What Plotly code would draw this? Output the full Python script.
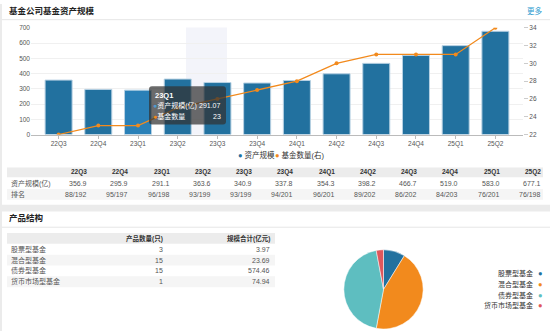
import plotly.graph_objects as go

# ---- data ----
quarters = ["22Q3", "22Q4", "23Q1", "23Q2", "23Q3", "23Q4",
            "24Q1", "24Q2", "24Q3", "24Q4", "25Q1", "25Q2"]
asset_scale = [356.9, 295.9, 291.1, 363.6, 340.9, 337.8,
               354.3, 398.2, 466.7, 519.0, 583.0, 677.1]
fund_count = [22, 23, 23, 25, 26, 27, 28, 30, 31, 31, 31, 34]
rank_labels = ["88/192", "95/197", "96/198", "93/199", "93/199", "94/201",
               "96/201", "89/202", "86/202", "84/203", "76/201", "76/198"]

product_types = ["股票型基金", "混合型基金", "债券型基金", "货币市场型基金"]
product_counts = [3, 15, 15, 1]
product_scales = [3.97, 23.69, 574.46, 74.94]

tooltip_quarter = "23Q1"
tooltip_scale = 291.07
tooltip_count = 23

W, H = 550, 334
BLUE = "#22719f"
ORANGE = "#f28a1d"
PIE_COLORS = ["#22719f", "#f28a1d", "#5ebec0", "#e0575c"]
FONT = "Liberation Sans, Arial, Noto Sans CJK SC, sans-serif"


def px(x):
    return x / W


def py(y):
    return 1 - y / H


shapes = []
annotations = []


def rect(x0, y0, x1, y1, color, layer="below"):
    shapes.append(dict(type="rect", xref="paper", yref="paper",
                       x0=px(x0), x1=px(x1), y0=py(y1), y1=py(y0),
                       fillcolor=color, line=dict(width=0), layer=layer))


def hline(x0, x1, y, color, width=1):
    shapes.append(dict(type="line", xref="paper", yref="paper",
                       x0=px(x0), x1=px(x1), y0=py(y), y1=py(y),
                       line=dict(color=color, width=width), layer="below"))


def text(x, y, s, size=7, color="#444", anchor="left", bold=False):
    if bold:
        s = "<b>" + s + "</b>"
    annotations.append(dict(xref="paper", yref="paper", x=px(x), y=py(y),
                            text=s, showarrow=False, xanchor=anchor,
                            yanchor="middle", align=anchor,
                            font=dict(size=size, color=color, family=FONT)))


fig = go.Figure()

bar_colors = [BLUE] * len(quarters)
bar_colors[quarters.index(tooltip_quarter)] = "#2a80b7"

fig.add_trace(go.Bar(
    x=quarters, y=asset_scale, name="资产规模",
    marker=dict(color=bar_colors, line=dict(color="#b7d1e3", width=1)),
    width=0.68, yaxis="y", showlegend=False))

fig.add_trace(go.Scatter(
    x=quarters, y=fund_count, name="基金数量(右)", mode="lines+markers",
    line=dict(color=ORANGE, width=1.3),
    marker=dict(size=4, color=ORANGE), yaxis="y2", showlegend=False))

# pie of product counts
fig.add_trace(go.Pie(
    labels=product_types, values=product_counts, sort=False,
    direction="clockwise", rotation=0, textinfo="none",
    marker=dict(colors=PIE_COLORS, line=dict(color="white", width=0.5)),
    domain=dict(x=[px(343), px(424)], y=[py(332), py(251)]),
    showlegend=False, hoverinfo="skip"))

# page background pieces
rect(0, 0, 2, H, "#ebebeb")
rect(0, 205, W, 212, "#ebebeb")

# header
text(7, 7.5, "基金公司基金资产规模", size=8.5, color="#222", bold=True)
text(545, 7.5, "更多", size=7.5, color="#2b9bd0", anchor="right")
hline(2, W, 16, "#e6e6e6")

# hover band
rect(186, 24, 227, 133.5, "#f3f4fa")

# chart legend
text(236, 154, "<span style='color:%s'>●</span> 资产规模" % BLUE, size=7.5, color="#333")
text(273, 154, "<span style='color:%s'>●</span> 基金数量(右)" % ORANGE, size=7.5, color="#333")

# tooltip box
tx0, ty0, tx1, ty1, r = 149, 84, 226, 123, 3
path = ("M {a},{b} L {c},{b} Q {d},{b} {d},{e} L {d},{f} Q {d},{g} {c},{g} "
        "L {a},{g} Q {h},{g} {h},{f} L {h},{e} Q {h},{b} {a},{b} Z").format(
    a=px(tx0 + r), b=py(ty0), c=px(tx1 - r), d=px(tx1), e=py(ty0 + r),
    f=py(ty1 - r), g=py(ty1), h=px(tx0))
shapes.append(dict(type="path", xref="paper", yref="paper", path=path,
                   fillcolor="rgba(50,50,50,0.72)", line=dict(width=0),
                   layer="above"))
text(153, 93, tooltip_quarter, size=7.5, color="white", bold=True)
text(151, 104, "<span style='color:#4d9ad0'>●</span>资产规模(亿)", size=7, color="white")
text(223, 104, "%.2f" % tooltip_scale, size=7, color="white", anchor="right")
text(151, 114.5, "<span style='color:%s'>●</span>基金数量" % ORANGE, size=7, color="white")
text(223, 114.5, str(tooltip_count), size=7, color="white", anchor="right")

# quarterly table
rect(7, 167, 543, 177, "#ececec")
rect(7, 189, 543, 200, "#f5f5f5")
text(9, 183, "资产规模(亿)", size=7, color="#555")
text(9, 194.5, "排名", size=7, color="#555")
n = len(quarters)
for i, q in enumerate(quarters):
    xr = 89 + i * (543 - 89) / (n - 1)
    text(xr, 172, q, size=6.5, color="#333", anchor="right", bold=True)
    text(xr, 183, "%.1f" % asset_scale[i], size=7, color="#555", anchor="right")
    text(xr, 194.5, rank_labels[i], size=7, color="#555", anchor="right")

# product structure
text(7, 219, "产品结构", size=8.5, color="#222", bold=True)
hline(2, W, 228, "#e6e6e6")
rect(7, 234, 275, 245, "#ececec")
text(165, 239.5, "产品数量(只)", size=6.5, color="#333", anchor="right", bold=True)
text(272, 239.5, "规模合计(亿元)", size=6.5, color="#333", anchor="right", bold=True)
for i, name in enumerate(product_types):
    yc = 250.7 + i * 11
    if i % 2 == 1:
        rect(7, yc - 5.5, 275, yc + 5.5, "#f5f5f5")
    text(9, yc, name, size=7, color="#555")
    text(165, yc, str(product_counts[i]), size=7, color="#555", anchor="right")
    text(272, yc, "%.2f" % product_scales[i], size=7, color="#555", anchor="right")

# pie legend
for i, name in enumerate(product_types):
    yc = 275.7 + i * 10.9
    text(535, yc, name, size=7, color="#333", anchor="right")
    text(536, yc, "<span style='color:%s'>●</span>" % PIE_COLORS[i], size=7.5)

fig.update_layout(
    width=W, height=H,
    margin=dict(l=0, r=0, t=0, b=0),
    paper_bgcolor="white", plot_bgcolor="rgba(0,0,0,0)",
    font=dict(family=FONT, size=7, color="#666"),
    bargap=0.32,
    xaxis=dict(domain=[px(31), px(523)], type="category",
               showline=True, linecolor="#bbbbbb", linewidth=1,
               ticks="outside", ticklen=3, tickcolor="#bbbbbb",
               tickfont=dict(size=6.5, color="#555"), showgrid=False,
               fixedrange=True),
    yaxis=dict(domain=[py(133.3), py(24.3)], range=[0, 700], dtick=100,
               showgrid=True, gridcolor="#f0f0f0", zeroline=False,
               tickfont=dict(size=6.5, color="#555"), ticks="",
               showline=False),
    yaxis2=dict(overlaying="y", side="right", range=[22, 34], dtick=2,
                showgrid=False, zeroline=False, ticks="outside", ticklen=4,
                tickcolor="#cccccc", tickfont=dict(size=6.5, color="#555"),
                anchor="x"),
    shapes=shapes,
    annotations=annotations,
)

fig.write_html("out.html")
